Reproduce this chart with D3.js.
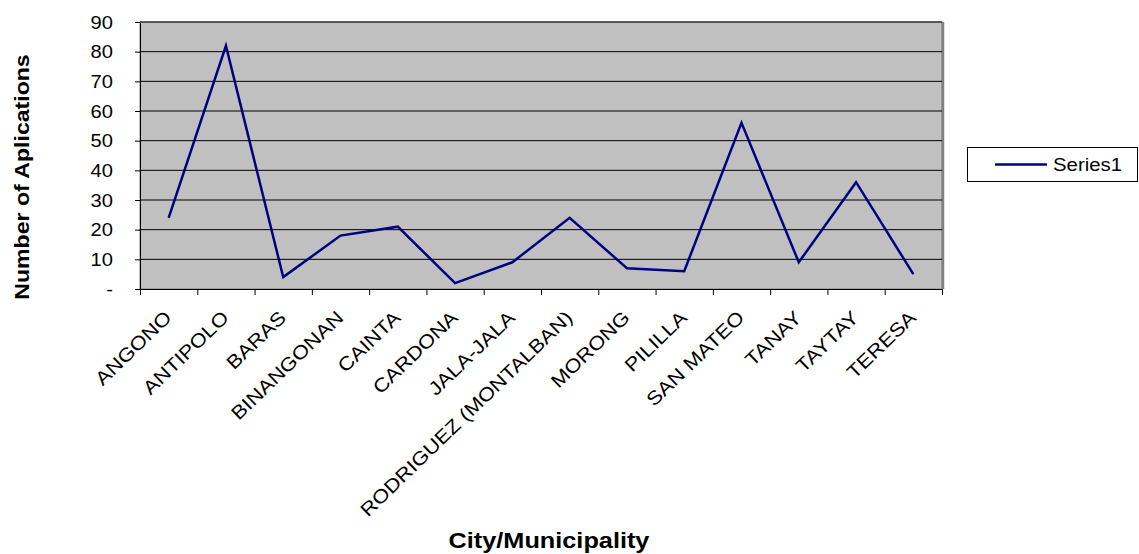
<!DOCTYPE html>
<meta charset="utf-8">
<style>
body { margin: 0; background: #fff; }
text { font-family: "Liberation Sans", Arial, sans-serif; fill: #000; }
</style>
<body>
<script src="https://d3js.org/d3.v7.min.js"></script>
<script>
var width = 1139,
    height = 554;

// data
var cities = ["ANGONO", "ANTIPOLO", "BARAS", "BINANGONAN", "CAINTA", "CARDONA", "JALA-JALA",
  "RODRIGUEZ (MONTALBAN)", "MORONG", "PILILLA", "SAN MATEO", "TANAY", "TAYTAY", "TERESA"];
var applications = [24, 82, 4, 18, 21, 2, 9, 24, 7, 6, 56, 9, 36, 5];
var yTicks = [0, 10, 20, 30, 40, 50, 60, 70, 80, 90];
var seriesName = "Series1";

var plotLeft = 140, plotRight = 942, plotTop = 22, plotBottom = 289;
var stretch = 1.15;

var svg = d3.select("body").append("svg")
    .attr("width", width)
    .attr("height", height);

var x = d3.scaleBand().domain(cities).range([plotLeft, plotRight]).padding(0);
var xi = d3.scaleLinear().domain([0, cities.length]).range([plotLeft, plotRight]);
var y = d3.scaleLinear().domain([0, 90]).range([plotBottom, plotTop]);

// plot area
svg.append("rect")
    .attr("x", plotLeft).attr("y", plotTop)
    .attr("width", plotRight - plotLeft).attr("height", plotBottom - plotTop)
    .style("fill", "#c0c0c0")
    .style("stroke", "#808080");
svg.append("line")
    .attr("x1", plotRight + 1).attr("x2", plotRight + 1)
    .attr("y1", plotTop).attr("y2", plotBottom)
    .style("stroke", "#808080").style("stroke-width", 2.5);

// gridlines
svg.append("g").selectAll("line")
    .data(yTicks.filter(function(d) { return d > 0; }))
    .enter().append("line")
      .attr("x1", plotLeft).attr("x2", plotRight)
      .attr("y1", function(d) { return y(d); })
      .attr("y2", function(d) { return y(d); })
      .style("stroke", "#000")
      .style("stroke-width", 1);

// y axis
var yAxis = svg.append("g")
    .attr("transform", "translate(" + plotLeft + ",0)")
    .call(d3.axisLeft(y).tickValues(yTicks).tickSize(5).tickSizeOuter(0)
      .tickFormat(function(d) { return d === 0 ? "-" : d; }));
yAxis.select(".domain").style("stroke", "#000");
yAxis.selectAll("line").style("stroke", "#000");
yAxis.selectAll("text")
    .attr("x", 0).attr("dy", "0.36em")
    .attr("transform", "translate(-27,0) scale(" + stretch + ",1)")
    .style("font-size", "17.5px")
    .style("font-family", "'Liberation Sans', Arial, sans-serif")
    .style("fill", "#000");

// x axis (ticks between categories)
var xAxis = svg.append("g")
    .attr("transform", "translate(0," + plotBottom + ")")
    .call(d3.axisBottom(xi).tickValues(d3.range(cities.length + 1)).tickSize(6)
      .tickSizeOuter(0).tickFormat(""));
xAxis.select(".domain").style("stroke", "#000");
xAxis.selectAll("line").style("stroke", "#000");

// category labels
svg.append("g").selectAll("text")
    .data(cities)
    .enter().append("text")
      .attr("transform", function(d) {
        return "translate(" + (x(d) + x.bandwidth() / 2 + 4) + ",319) rotate(-44) scale(" + stretch + ",1)";
      })
      .attr("text-anchor", "end")
      .style("font-size", "19px")
      .text(function(d) { return d; });

// series line
var line = d3.line()
    .x(function(d, i) { return x(cities[i]) + x.bandwidth() / 2; })
    .y(function(d) { return y(d); });
svg.append("path")
    .datum(applications)
    .attr("d", line)
    .style("fill", "none")
    .style("stroke", "#000080")
    .style("stroke-width", 2.5)
    .style("stroke-linejoin", "miter");

// axis titles
svg.append("text")
    .attr("transform", "translate(549,548) scale(" + stretch + ",1)")
    .attr("text-anchor", "middle")
    .style("font-size", "22px")
    .style("font-weight", "bold")
    .text("City/Municipality");
svg.append("text")
    .attr("transform", "translate(29,177) rotate(-90) scale(1.1,1)")
    .attr("text-anchor", "middle")
    .style("font-size", "21px")
    .style("font-weight", "bold")
    .text("Number of Aplications");

// legend
var legend = svg.append("g");
legend.append("rect")
    .attr("x", 967.5).attr("y", 147.5)
    .attr("width", 170).attr("height", 34)
    .style("fill", "#fff").style("stroke", "#000");
legend.append("line")
    .attr("x1", 995).attr("x2", 1047)
    .attr("y1", 164.5).attr("y2", 164.5)
    .style("stroke", "#000080").style("stroke-width", 2.5);
legend.append("text")
    .attr("transform", "translate(1053,171) scale(1.1,1)")
    .style("font-size", "18.5px")
    .text(seriesName);
</script>
</body>
